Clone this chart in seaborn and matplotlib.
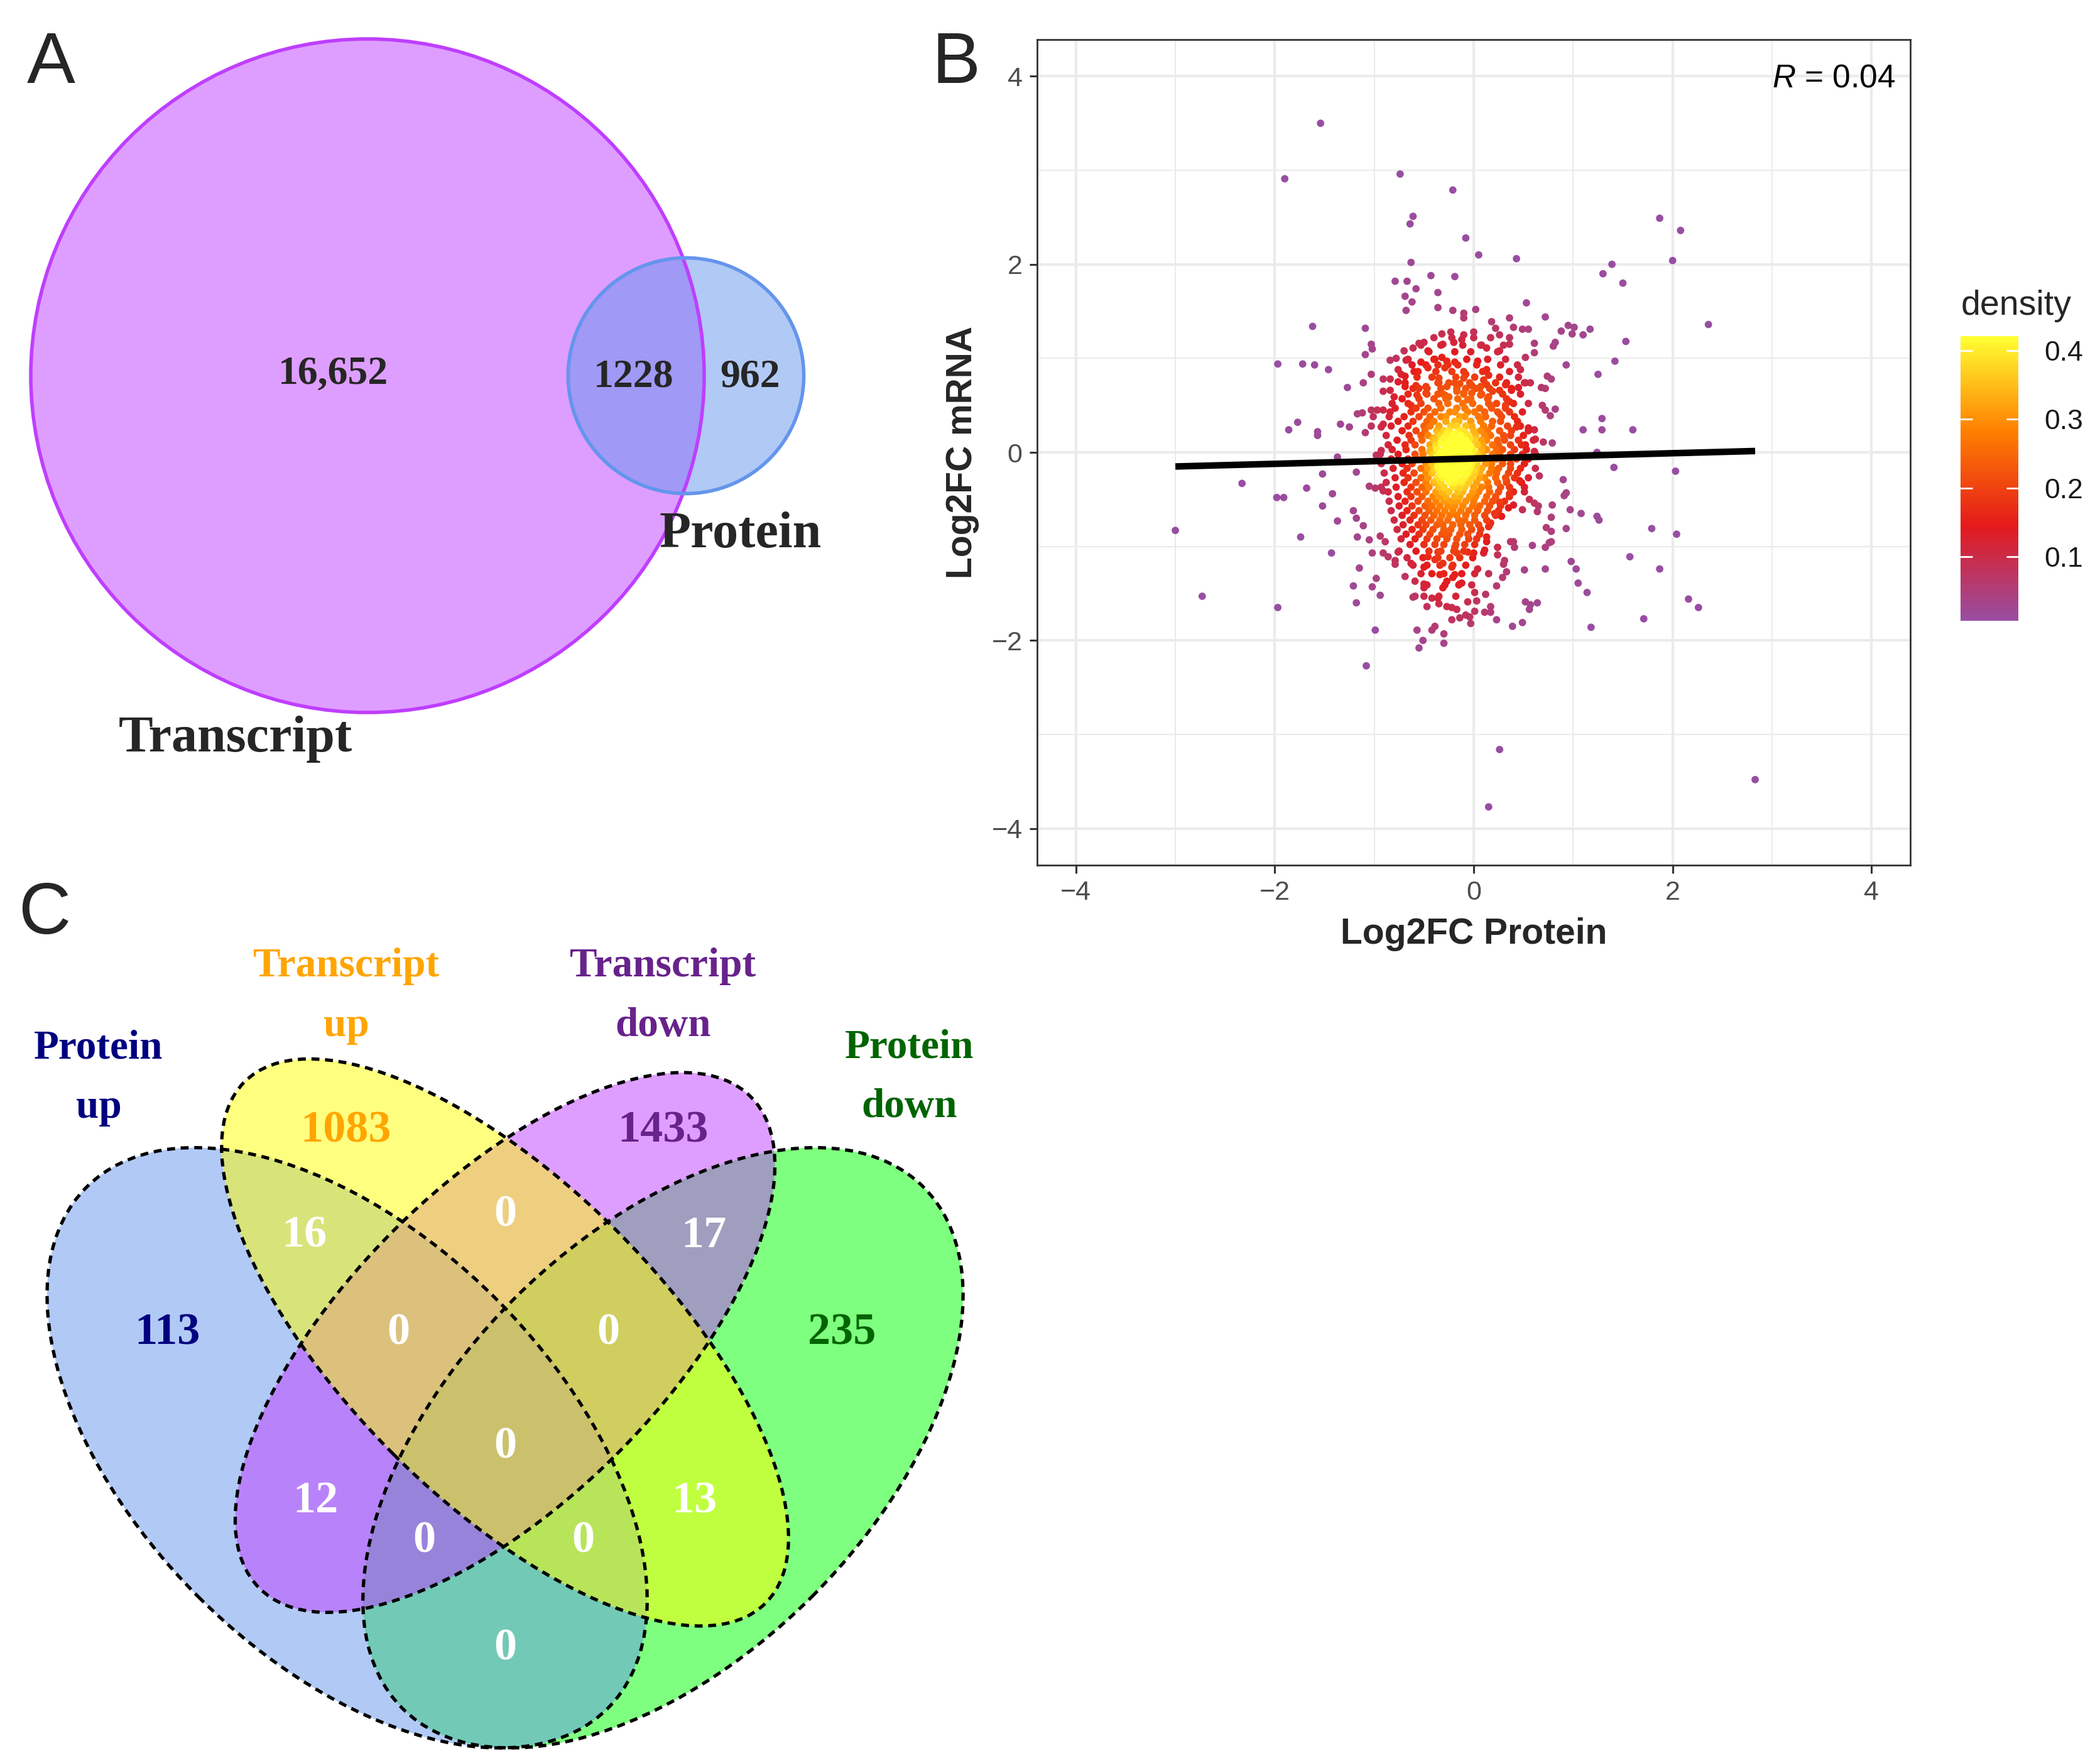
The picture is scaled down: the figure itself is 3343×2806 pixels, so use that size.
import numpy as np
import matplotlib
matplotlib.use("Agg")
import matplotlib.pyplot as plt
from matplotlib.patches import Circle, Ellipse
from matplotlib.colors import LinearSegmentedColormap, Normalize
from matplotlib.cm import ScalarMappable
import pandas as pd
import seaborn as sns

# ---------------- data ----------------
# panel A: two-set venn
transcript_only = 16652
shared_count = 1228
protein_only = 962

# panel C: four-set venn (region counts)
venn_names = ["Protein\nup", "Transcript\nup", "Transcript\ndown", "Protein\ndown"]
venn_name_colors = ["#000080", "#FFA500", "#68228B", "#006400"]
venn_only = [113, 1083, 1433, 235]           # exclusive to each set
venn_pairs = {"pu_tu": 16, "tu_td": 0, "td_pd": 17, "pu_td": 12, "tu_pd": 13, "pu_pd": 0}
venn_triples = {"pu_tu_td": 0, "tu_td_pd": 0, "pu_td_pd": 0, "pu_tu_pd": 0}
venn_all = 0

# panel B: log2 fold changes (protein, mRNA)
outer_pairs = [
    (-1.54, 3.50), (-1.90, 2.91), (-0.74, 2.96), (-0.21, 2.79), (-0.61, 2.51), (-0.64, 2.43),
    (-0.08, 2.28), (0.05, 2.10), (0.43, 2.06), (-0.63, 2.02), (1.87, 2.49), (2.08, 2.36),
    (2.00, 2.04), (1.39, 2.00), (1.30, 1.90), (-0.43, 1.88), (-0.19, 1.87),
    (2.36, 1.36), (1.53, 1.18), (1.60, 0.24), (2.03, -0.20), (1.79, -0.81), (2.04, -0.87),
    (1.87, -1.24), (1.57, -1.11), (2.16, -1.56), (2.26, -1.65), (1.71, -1.77), (2.83, -3.48),
    (-1.62, 1.34), (-1.97, 0.94), (-1.72, 0.94), (-1.60, 0.93), (-1.86, 0.24), (-1.77, 0.32),
    (-1.57, 0.22), (-1.57, 0.18), (-2.33, -0.33), (-1.98, -0.48), (-1.91, -0.48), (-3.00, -0.83),
    (-2.73, -1.53), (-1.97, -1.65), (-1.74, -0.90), (-1.68, -0.38), (0.26, -3.16), (0.15, -3.77),
]
upper_pairs = [
    (-0.79, 1.82), (-0.67, 1.82), (-0.58, 1.74), (-0.36, 1.70), (-0.69, 1.66), (-0.62, 1.60),
    (-0.68, 1.51), (-0.36, 1.54), (-0.21, 1.51), (-0.10, 1.48), (-0.10, 1.43), (0.02, 1.52),
    (0.53, 1.59), (0.36, 1.43), (0.72, 1.44), (0.18, 1.39), (0.22, 1.32), (0.26, 1.25),
    (0.40, 1.33), (0.49, 1.31), (0.55, 1.31), (0.95, 1.35), (1.01, 1.33), (0.99, 1.26),
    (1.10, 1.25), (1.17, 1.31), (0.88, 1.29), (1.50, 1.80), (-1.09, 1.32), (-1.03, 1.15),
    (-1.02, 1.10), (-1.09, 1.04), (-1.46, 0.88),
    (-0.32, 1.26), (-0.23, 1.28), (-0.31, 1.15), (-0.20, 1.17), (-0.12, 1.20), (-0.10, 1.25),
    (0.00, 1.28), (0.07, 1.14), (0.13, 1.11), (0.26, 1.08), (0.36, 1.22), (0.36, 1.15),
    (0.61, 1.16), (0.61, 1.06), (0.52, 1.01), (0.82, 1.17), (0.80, 1.13), (0.93, 0.93),
    (1.42, 0.97), (1.25, 0.83),
    (-0.70, 1.08), (-0.61, 1.11), (-0.55, 1.16), (-0.50, 1.17), (-0.46, 1.08), (-0.84, 0.98),
    (-0.78, 1.00), (-0.68, 0.98), (-0.62, 0.93), (-0.60, 0.86), (-0.53, 0.96), (-0.46, 0.90),
    (-0.39, 0.99), (-0.32, 1.01), (-0.27, 0.97), (-0.19, 0.96), (-0.36, 0.93), (-0.29, 0.90),
    (0.04, 0.97), (-0.76, 0.88), (-0.73, 0.83), (-0.69, 0.81), (-0.91, 0.78), (-0.84, 0.78),
    (-0.76, 0.75), (-0.69, 0.70), (-0.91, 0.65), (-0.84, 0.66), (-1.03, 0.83), (-1.11, 0.74),
    (-1.27, 0.69), (0.13, 0.88), (0.15, 0.82), (-0.08, 0.83), (-0.10, 0.79), (0.10, 0.77),
    (0.13, 0.72), (0.32, 0.72), (0.26, 0.66), (0.38, 0.66), (0.45, 0.69), (0.51, 0.74),
    (0.57, 0.74), (0.47, 0.88), (0.74, 0.81), (0.78, 0.78), (0.68, 0.69), (0.72, 0.68),
    (-0.35, 0.79), (-0.35, 0.74), (-0.27, 0.70), (-0.19, 0.74), (-0.14, 0.73), (-0.02, 0.71),
    (0.02, 0.68), (0.07, 0.70), (-0.58, 0.71), (-0.55, 0.68), (-0.48, 0.70), (-0.48, 0.63),
    (-0.57, 0.61), (-0.63, 0.50), (-0.80, 0.59), (-0.82, 0.52), (-0.84, 0.43), (-0.91, 0.45),
    (-0.97, 0.45), (-1.03, 0.45), (-1.12, 0.42), (-1.17, 0.41), (-1.01, 0.38), (-1.34, 0.30),
    (-1.25, 0.27), (-1.09, 0.21), (-1.03, 0.28), (-0.93, 0.27), (-0.91, 0.30),
    (-0.29, 0.61), (-0.25, 0.59), (-0.17, 0.65), (-0.10, 0.63), (-0.06, 0.56), (-0.02, 0.63),
    (0.07, 0.61), (0.15, 0.59), (0.19, 0.65), (0.36, 0.54), (0.32, 0.50), (0.17, 0.50),
    (0.26, 0.41), (0.69, 0.50), (0.72, 0.45), (0.77, 0.39), (0.82, 0.46), (1.29, 0.36),
    (1.29, 0.24), (1.10, 0.24), (0.43, 0.27), (0.55, 0.26), (0.61, 0.24), (0.62, 0.14),
    (0.70, 0.11), (0.79, 0.10), (0.52, 0.08), (0.61, 0.01), (1.24, 0.00), (1.41, -0.16),
    (0.66, -0.25), (-1.37, -0.05), (-1.52, -0.23), (-1.18, -0.21), (-0.98, -0.03), (-0.93, 0.02),
]
lower_pairs = [
    (-1.05, -0.36), (-0.99, -0.38), (-0.91, -0.41), (-0.93, -0.37), (-1.42, -0.44), (-1.52, -0.57),
    (-1.21, -0.62), (-1.18, -0.70), (-1.11, -0.78), (-1.37, -0.73), (-1.17, -0.90), (-1.05, -0.93),
    (-0.94, -0.89), (-0.89, -0.95), (-1.43, -1.07), (-1.02, -1.07), (-0.91, -1.07), (-0.86, -1.11),
    (-0.79, -1.15), (-0.79, -1.19), (-0.76, -1.06), (-1.15, -1.23), (-0.98, -1.34), (-1.02, -1.43),
    (-1.21, -1.42), (-0.94, -1.52), (-1.18, -1.60), (-0.99, -1.89), (-1.08, -2.27),
    (-0.69, -1.32), (-0.59, -1.37), (-0.50, -1.40), (-0.50, -1.44), (-0.61, -1.54), (-0.50, -1.53),
    (-0.42, -1.55), (-0.36, -1.55), (-0.35, -1.61), (-0.47, -1.64), (-0.27, -1.64), (-0.22, -1.65),
    (-0.17, -1.67), (-0.06, -1.59), (0.03, -1.58), (0.01, -1.49), (0.12, -1.51), (-0.14, -1.40),
    (-0.22, -1.78), (-0.14, -1.76), (-0.08, -1.73), (-0.04, -1.75), (0.01, -1.69), (-0.03, -1.82),
    (0.11, -1.70), (0.17, -1.64), (0.17, -1.70), (0.23, -1.78), (0.39, -1.85), (0.49, -1.81),
    (0.52, -1.59), (0.57, -1.62), (0.64, -1.60), (0.56, -1.67), (-0.57, -1.89), (-0.42, -1.89),
    (-0.39, -1.85), (-0.30, -1.93), (-0.51, -2.00), (-0.55, -2.08), (-0.30, -2.03),
    (-0.34, -1.30), (-0.27, -1.37), (-0.31, -1.44), (-0.21, -1.33), (-0.19, -1.30), (-0.22, -1.22),
    (-0.12, -1.39), (-0.50, -1.22), (-0.63, -1.18), (-0.31, -1.18), (0.04, -1.24), (0.15, -1.29),
    (0.23, -1.42), (0.24, -1.01), (0.24, -1.09), (0.31, -1.15), (0.30, -1.19), (0.33, -1.27),
    (0.29, -1.33), (0.51, -1.25), (0.72, -1.24), (0.13, -0.90), (0.13, -0.95), (0.10, -1.07),
    (0.11, -1.04), (0.00, -1.07), (-0.06, -1.06), (0.37, -0.95), (0.40, -0.95), (0.41, -1.01),
    (0.59, -0.99), (0.72, -1.01), (0.76, -0.96), (0.78, -0.95), (0.73, -0.80), (0.78, -0.84),
    (0.93, -0.81), (0.78, -0.69), (0.79, -0.56), (0.97, -0.61), (1.08, -0.65), (1.24, -0.68),
    (1.26, -0.72), (0.90, -0.29), (0.93, -0.43), (0.91, -0.46), (0.98, -1.16), (1.03, -1.24),
    (1.05, -1.39), (1.14, -1.49), (1.18, -1.86), (0.51, -0.42), (0.56, -0.50), (0.61, -0.54),
    (0.65, -0.57), (0.64, -0.63), (0.49, -0.61), (0.35, -0.59), (0.40, -0.56), (0.36, -0.44),
    (0.26, -0.53), (0.21, -0.65), (0.28, -0.68), (0.17, -0.75), (0.15, -0.79), (0.46, -0.30),
    (0.33, -0.30), (-0.46, -1.11), (-0.39, -1.14), (-0.36, -1.06), (-0.17, -1.07), (-0.19, -1.01),
]
# crowded centre of the cloud, read row by row (mRNA level -> protein values)
core_mrna_levels = [1.22, 1.14, 1.07, 0.99, 0.93, 0.86, 0.80, 0.74, 0.68, 0.62, 0.57,
                    0.52, 0.47, 0.43, 0.38, 0.33, 0.28, 0.23, 0.18, 0.13, 0.08, 0.03,
                    -0.02, -0.07, -0.12, -0.17, -0.22, -0.27, -0.32, -0.37, -0.42, -0.47,
                    -0.52, -0.57, -0.62, -0.67, -0.72, -0.77, -0.82, -0.87, -0.92, -0.98,
                    -1.05, -1.12, -1.20, -1.29, -1.41, -1.53]
core_protein_rows = [
    [-0.40, -0.22, 0.00, 0.17],
    [-0.53, -0.33, -0.11, 0.08, 0.30],
    [-0.45, -0.19, -0.03, 0.24],
    [-0.66, -0.40, -0.07, 0.14, 0.32],
    [-0.48, -0.26, -0.16, 0.03, 0.27, 0.44],
    [-0.56, -0.38, -0.22, -0.10, 0.09, 0.36],
    [-0.57, -0.42, -0.18, 0.01, 0.26, 0.45],
    [-0.69, -0.36, -0.25, -0.04, 0.22, 0.33, 0.52],
    [-0.61, -0.47, -0.33, -0.17, -0.08, 0.06, 0.16, 0.38],
    [-0.66, -0.47, -0.36, -0.31, -0.10, 0.08, 0.29, 0.47],
    [-0.72, -0.55, -0.40, -0.28, -0.16, -0.03, 0.14, 0.33],
    [-0.66, -0.53, -0.35, -0.26, -0.11, -0.01, 0.15, 0.23, 0.40, 0.55],
    [-0.79, -0.58, -0.46, -0.33, -0.17, -0.09, 0.06, 0.18, 0.32],
    [-0.63, -0.50, -0.39, -0.24, -0.19, -0.06, 0.01, 0.11, 0.24, 0.36, 0.49],
    [-0.85, -0.70, -0.55, -0.44, -0.33, -0.28, -0.14, -0.09, 0.05, 0.12, 0.28, 0.41],
    [-0.76, -0.61, -0.47, -0.40, -0.28, -0.19, -0.15, -0.03, 0.07, 0.19, 0.27, 0.44],
    [-0.83, -0.66, -0.50, -0.44, -0.35, -0.23, -0.17, -0.08, -0.02, 0.10, 0.18, 0.34, 0.47],
    [-0.72, -0.58, -0.49, -0.37, -0.30, -0.25, -0.14, -0.11, 0.00, 0.07, 0.14, 0.26, 0.38, 0.55],
    [-0.88, -0.65, -0.53, -0.46, -0.34, -0.28, -0.21, -0.13, -0.06, 0.02, 0.11, 0.17, 0.30, 0.37, 0.50],
    [-0.77, -0.63, -0.52, -0.39, -0.32, -0.24, -0.18, -0.12, -0.08, 0.01, 0.08, 0.13, 0.24, 0.31, 0.45, 0.60],
    [-0.86, -0.69, -0.59, -0.44, -0.38, -0.30, -0.21, -0.17, -0.09, -0.05, 0.04, 0.09, 0.19, 0.25, 0.37, 0.48],
    [-0.82, -0.68, -0.52, -0.43, -0.37, -0.27, -0.24, -0.16, -0.13, -0.05, -0.01, 0.08, 0.13, 0.23, 0.29, 0.41, 0.53],
    [-0.94, -0.76, -0.59, -0.51, -0.41, -0.34, -0.27, -0.21, -0.16, -0.08, -0.04, 0.04, 0.09, 0.19, 0.26, 0.37, 0.49, 0.62],
    [-0.83, -0.66, -0.57, -0.44, -0.38, -0.31, -0.23, -0.19, -0.11, -0.07, 0.01, 0.06, 0.15, 0.23, 0.30, 0.43, 0.55],
    [-0.93, -0.72, -0.62, -0.48, -0.42, -0.33, -0.28, -0.22, -0.14, -0.10, -0.02, 0.03, 0.12, 0.18, 0.29, 0.37, 0.51],
    [-0.81, -0.67, -0.53, -0.46, -0.36, -0.31, -0.25, -0.17, -0.13, -0.04, 0.03, 0.08, 0.18, 0.25, 0.37, 0.47, 0.62],
    [-0.90, -0.71, -0.60, -0.48, -0.42, -0.32, -0.28, -0.19, -0.15, -0.06, 0.01, 0.06, 0.16, 0.23, 0.35, 0.44],
    [-0.79, -0.66, -0.53, -0.46, -0.36, -0.31, -0.22, -0.18, -0.09, -0.02, 0.06, 0.11, 0.22, 0.32, 0.41, 0.55],
    [-0.88, -0.70, -0.58, -0.48, -0.40, -0.33, -0.24, -0.19, -0.12, -0.05, 0.03, 0.14, 0.24, 0.33, 0.48],
    [-0.78, -0.63, -0.52, -0.45, -0.35, -0.30, -0.21, -0.14, -0.09, 0.00, 0.08, 0.15, 0.27, 0.36, 0.51],
    [-0.86, -0.67, -0.57, -0.48, -0.38, -0.32, -0.25, -0.16, -0.11, -0.01, 0.05, 0.16, 0.25, 0.40],
    [-0.76, -0.63, -0.52, -0.41, -0.35, -0.28, -0.19, -0.14, -0.04, 0.02, 0.13, 0.22, 0.36],
    [-0.85, -0.69, -0.56, -0.46, -0.38, -0.30, -0.23, -0.16, -0.08, 0.00, 0.11, 0.19, 0.31],
    [-0.75, -0.62, -0.49, -0.42, -0.34, -0.26, -0.19, -0.11, -0.01, 0.06, 0.16, 0.27],
    [-0.83, -0.67, -0.55, -0.45, -0.37, -0.29, -0.21, -0.13, -0.05, 0.04, 0.14, 0.25],
    [-0.72, -0.60, -0.49, -0.40, -0.32, -0.24, -0.17, -0.08, 0.01, 0.11, 0.22],
    [-0.80, -0.64, -0.52, -0.43, -0.34, -0.26, -0.15, -0.09, 0.01, 0.13],
    [-0.71, -0.56, -0.48, -0.37, -0.31, -0.21, -0.13, -0.04, 0.05, 0.16],
    [-0.77, -0.62, -0.51, -0.41, -0.30, -0.23, -0.12, -0.02, 0.07],
    [-0.68, -0.55, -0.44, -0.32, -0.25, -0.14, -0.06, 0.06],
    [-0.73, -0.59, -0.47, -0.37, -0.27, -0.17, -0.05, 0.03],
    [-0.64, -0.50, -0.39, -0.30, -0.18, -0.09, 0.01],
    [-0.75, -0.58, -0.45, -0.33, -0.20, -0.10],
    [-0.67, -0.51, -0.36, -0.24, -0.14, -0.01],
    [-0.61, -0.47, -0.34, -0.21, -0.08],
    [-0.53, -0.42, -0.30, -0.12, 0.01],
    [-0.47, -0.29, -0.15, -0.02],
    [-0.59, -0.35, -0.18],
]
# the saturated (yellow) heart of the cloud
peak_mrna_levels = [0.20, 0.15, 0.10, 0.06, 0.01, -0.04, -0.09, -0.14, -0.19, -0.24, -0.30]
peak_protein_rows = [
    [-0.36, -0.27, -0.19, -0.08],
    [-0.41, -0.30, -0.21, -0.15, -0.04],
    [-0.33, -0.26, -0.19, -0.13, -0.06],
    [-0.38, -0.29, -0.23, -0.14, -0.03],
    [-0.44, -0.32, -0.22, -0.18, -0.10, 0.00],
    [-0.37, -0.30, -0.24, -0.13, -0.06],
    [-0.42, -0.34, -0.26, -0.16, -0.08, 0.03],
    [-0.36, -0.29, -0.18, -0.11, -0.05],
    [-0.40, -0.31, -0.24, -0.12, 0.00],
    [-0.34, -0.27, -0.20, -0.09],
    [-0.38, -0.25, -0.13],
]
density_limits = (0.007, 0.421)
density_ticks = [0.1, 0.2, 0.3, 0.4]
density_colors = ["#984EA3", "#E41A1C", "#FF7F00", "#FFFF33"]
r_value = 0.04

# ---------------- figure ----------------
sns.set_theme(style="white")
plt.rcParams["font.family"] = ["Liberation Sans", "DejaVu Sans"]
plt.rcParams["mathtext.fontset"] = "custom"
plt.rcParams["mathtext.it"] = "Liberation Sans:italic"
plt.rcParams["mathtext.rm"] = "Liberation Sans"

W, H = 3343, 2806
fig = plt.figure(figsize=(W / 100, H / 100), dpi=100)
fig.patch.set_facecolor("white")


def px_axes(left, top, right, bottom):
    return fig.add_axes([left / W, 1 - bottom / H, (right - left) / W, (bottom - top) / H])


def ftext(x, y, s, **kw):
    fig.text(x / W, 1 - y / H, s, **kw)


SERIF = ["Liberation Serif", "DejaVu Serif"]
purple_fill = (191 / 255, 62 / 255, 1.0, 0.5)
blue_fill = (100 / 255, 149 / 255, 237 / 255, 0.5)

# ---------------- panel A ----------------
axA = px_axes(0, 0, 1400, 1300)
axA.set_xlim(0, 1400)
axA.set_ylim(1300, 0)
axA.axis("off")

r_t = 536.0
r_p = r_t * np.sqrt((shared_count + protein_only) / (transcript_only + shared_count))
target = shared_count / (transcript_only + shared_count) * np.pi * r_t ** 2


def lens_area(d, r1, r2):
    a1 = np.arccos(np.clip((d ** 2 + r1 ** 2 - r2 ** 2) / (2 * d * r1), -1, 1))
    a2 = np.arccos(np.clip((d ** 2 + r2 ** 2 - r1 ** 2) / (2 * d * r2), -1, 1))
    k = (-d + r1 + r2) * (d + r1 - r2) * (d - r1 + r2) * (d + r1 + r2)
    return r1 ** 2 * a1 + r2 ** 2 * a2 - 0.5 * np.sqrt(max(k, 0))


lo, hi = r_t - r_p + 1e-6, r_t + r_p - 1e-6
for _ in range(80):
    mid = 0.5 * (lo + hi)
    if lens_area(mid, r_t, r_p) > target:
        lo = mid
    else:
        hi = mid
d_centres = 0.5 * (lo + hi)
ct = (585, 598)
cp = (585 + d_centres, 598)

axA.add_patch(Circle(ct, r_t, facecolor=purple_fill, edgecolor="none"))
axA.add_patch(Circle(cp, r_p, facecolor=blue_fill, edgecolor="none"))
axA.add_patch(Circle(ct, r_t, facecolor="none", edgecolor="#BF3EFF", lw=4))
axA.add_patch(Circle(cp, r_p, facecolor="none", edgecolor="#6495ED", lw=4))

num_kw = dict(ha="center", va="center", family=SERIF, fontweight="bold", fontsize=46)
axA.text(531, 596, f"{transcript_only:,}", **num_kw)
axA.text(1009, 600, f"{shared_count}", **num_kw)
axA.text(1194, 600, f"{protein_only}", **num_kw)
axA.text(1179, 851, "Protein", ha="center", va="center", family=SERIF, fontweight="bold", fontsize=59)
axA.text(375, 1177, "Transcript", ha="center", va="center", family=SERIF, fontweight="bold", fontsize=59)

# ---------------- panel C ----------------
unit = 1676.0
ox, oy = 804 - 0.5 * unit, 3092.0
axC = px_axes(0, 1400, 1600, 2806)
axC.set_xlim((0 - ox) / unit, (1600 - ox) / unit)
axC.set_ylim((oy - 2806) / unit, (oy - 1400) / unit)
axC.axis("off")

ellipses = [  # (x, y, a, b, angle, colour) in draw order
    (0.65, 0.47, 0.35, 0.20, 45, (0.0, 1.0, 0.0, 0.5)),
    (0.35, 0.47, 0.35, 0.20, -45, blue_fill),
    (0.50, 0.57, 0.33, 0.15, 45, purple_fill),
    (0.50, 0.57, 0.35, 0.15, -45, (1.0, 1.0, 0.0, 0.5)),
]
for x, y, a, b, ang, col in ellipses:
    axC.add_patch(Ellipse((x, y), 2 * a, 2 * b, angle=ang, facecolor=col, edgecolor="none"))
for x, y, a, b, ang, col in ellipses:
    axC.add_patch(Ellipse((x, y), 2 * a, 2 * b, angle=ang, facecolor="none",
                          edgecolor="black", lw=3.8, linestyle=(0, (2.4, 1.7))))

region_labels = [
    (0.349, 0.771, venn_only[1], venn_name_colors[1]),
    (0.650, 0.771, venn_only[2], venn_name_colors[2]),
    (0.179, 0.579, venn_only[0], venn_name_colors[0]),
    (0.820, 0.579, venn_only[3], venn_name_colors[3]),
    (0.309, 0.671, venn_pairs["pu_tu"], "white"),
    (0.689, 0.671, venn_pairs["td_pd"], "white"),
    (0.500, 0.691, venn_pairs["tu_td"], "white"),
    (0.399, 0.579, venn_triples["pu_tu_td"], "white"),
    (0.598, 0.579, venn_triples["tu_td_pd"], "white"),
    (0.500, 0.471, venn_all, "white"),
    (0.320, 0.419, venn_pairs["pu_td"], "white"),
    (0.680, 0.419, venn_pairs["tu_pd"], "white"),
    (0.423, 0.381, venn_triples["pu_td_pd"], "white"),
    (0.574, 0.381, venn_triples["pu_tu_pd"], "white"),
    (0.500, 0.279, venn_pairs["pu_pd"], "white"),
]
for x, y, val, col in region_labels:
    axC.text(x, y, str(val), ha="center", va="center", color=col,
             family=SERIF, fontweight="bold", fontsize=52)

name_pos = [(0.114, 0.821), (0.349, 0.899), (0.650, 0.899), (0.884, 0.822)]
for (x, y), name, col in zip(name_pos, venn_names, venn_name_colors):
    axC.text(x, y, name, ha="center", va="center", color=col, family=SERIF,
             fontweight="bold", fontsize=47, linespacing=1.75)

# ---------------- panel B ----------------
pairs = outer_pairs + upper_pairs + lower_pairs
for lvl, row in zip(core_mrna_levels + peak_mrna_levels, core_protein_rows + peak_protein_rows):
    pairs += [(p, lvl) for p in row]
prot = np.array([p[0] for p in pairs])
mrna = np.array([p[1] for p in pairs])


def bw_nrd(v):
    q75, q25 = np.percentile(v, [75, 25])
    return 4 * 1.06 * min(np.std(v, ddof=1), (q75 - q25) / 1.34) * len(v) ** -0.2


hx, hy = bw_nrd(prot) / 4, bw_nrd(mrna) / 4
dx = (prot[:, None] - prot[None, :]) / hx
dy = (mrna[:, None] - mrna[None, :]) / hy
dens = np.exp(-0.5 * (dx ** 2 + dy ** 2)).sum(axis=1) / (len(prot) * 2 * np.pi * hx * hy)

df = pd.DataFrame({"protein": prot, "mrna": mrna, "density": dens}).sort_values("density")
cmap = LinearSegmentedColormap.from_list("dens", density_colors)
norm = Normalize(*density_limits, clip=True)

left, top, right, bottom = 1651, 63, 3041, 1377
axB = px_axes(left, top, right, bottom)
sns.scatterplot(data=df, x="protein", y="mrna", hue="density", palette=cmap, hue_norm=norm,
                s=72, linewidth=0, legend=False, ax=axB, zorder=3)
sns.regplot(x=prot, y=mrna, scatter=False, ci=None, color="black", truncate=True,
            line_kws=dict(lw=7.5, zorder=4, solid_capstyle="butt"), ax=axB)

lim = 4.39
axB.set_xlim(-lim, lim)
axB.set_ylim(-lim, lim)
axB.set_xticks([-4, -2, 0, 2, 4])
axB.set_yticks([-4, -2, 0, 2, 4])
axB.set_xticks([-3, -1, 1, 3], minor=True)
axB.set_yticks([-3, -1, 1, 3], minor=True)
axB.grid(True, which="major", color="#EBEBEB", lw=3.0, zorder=0)
axB.grid(True, which="minor", color="#EBEBEB", lw=1.5, zorder=0)
axB.set_axisbelow(True)
axB.tick_params(which="major", length=9, width=2.2, color="#333333", labelsize=31,
                labelcolor="#4D4D4D", pad=8, direction="out", bottom=True, left=True)
axB.tick_params(which="minor", length=0)
for sp in axB.spines.values():
    sp.set_color("#333333")
    sp.set_linewidth(2.0)
    sp.set_visible(True)
axB.set_xlabel("Log2FC Protein", fontsize=41, fontweight="bold")
axB.set_ylabel("Log2FC mRNA", fontsize=41, fontweight="bold")
axB.xaxis.set_label_coords(0.5, -(1487 - bottom) / (bottom - top))
axB.xaxis.label.set_va("center")
axB.yaxis.set_label_coords(-(left - 1532) / (right - left), 0.5)
axB.yaxis.label.set_va("center")
axB.text(0.983, 0.953, r"$\mathit{R}$ = " + f"{r_value:.2f}", transform=axB.transAxes,
         ha="right", va="center", fontsize=37, color="black")

# colour bar
cax = px_axes(3121, 535, 3213, 988)
cb = fig.colorbar(ScalarMappable(norm=Normalize(*density_limits), cmap=cmap), cax=cax,
                  ticks=density_ticks)
cb.outline.set_visible(False)
cax.tick_params(length=0, labelsize=32, pad=30, labelcolor="#1A1A1A")
cax.set_yticklabels([f"{t:.1f}" for t in density_ticks])
for t in density_ticks:
    cax.axhline(t, 0, 0.2, color="white", lw=2)
    cax.axhline(t, 0.8, 1, color="white", lw=2)
ftext(3122, 501, "density", ha="left", va="baseline", fontsize=40)

# panel letters
ftext(81, 103, "A", ha="center", va="center", fontsize=83)
ftext(1522, 103, "B", ha="center", va="center", fontsize=83)
ftext(71, 1457, "C", ha="center", va="center", fontsize=83)

fig.savefig("out.png", dpi=100, facecolor="white")
